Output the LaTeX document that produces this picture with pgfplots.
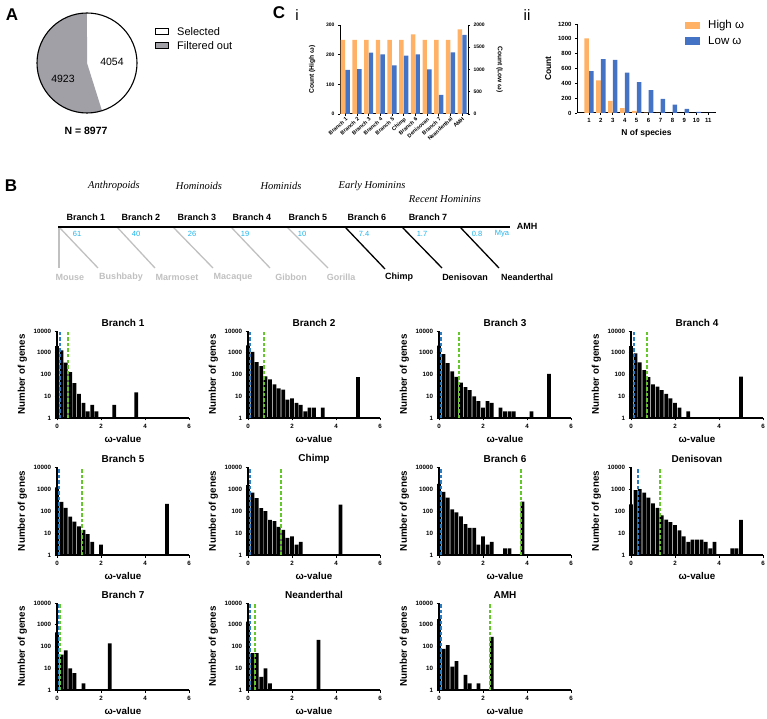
\documentclass[border=0pt]{standalone}
\usepackage{pgfplots}
\pgfplotsset{compat=1.18}
\usepackage{fontspec}
\setmainfont{Liberation Sans}
\newfontfamily\seriffont{Liberation Serif}
\definecolor{hiorange}{RGB}{255,178,102}
\definecolor{loblue}{RGB}{68,114,196}
\definecolor{piegray}{RGB}{160,160,166}
\definecolor{treegray}{RGB}{192,192,192}
\definecolor{myacyan}{RGB}{30,180,235}
\definecolor{dashblue}{RGB}{40,125,195}
\definecolor{dashgreen}{RGB}{100,200,40}
\newcommand{\fs}[1]{\fontsize{#1}{#1}\selectfont}
\newcommand{\omegahist}[7]{%
\begin{axis}[ymode=log, scale only axis, width=132pt, height=#3pt, at={(#1pt,#2pt)},
    ymin=1, ymax=10000, xmin=0, xmax=6,
    axis x line*=bottom, axis y line*=left,
    axis line style={line width=1.1pt,-},
    xtick={0,2,4,6}, ytick={1,10,100,1000,10000},
    yticklabels={1,10,100,1000,10000}, yminorticks=false,
    tick align=outside, major tick length=2.5pt,
    tick style={line width=0.9pt,black},
    ticklabel style={font=\bfseries\fs{6.2}},
    xlabel={ω-value}, ylabel={Number of genes},
    label style={font=\bfseries\fs{9.8}},
    title={#4},
    title style={font=\bfseries\fs{10}, at={(0.5,1)}, anchor=center, yshift=2pt},
    bar width=0.17, clip=false,
    /pgf/number format/assume math mode=true]
\addplot[ybar, fill=black, draw=none] coordinates {#5};
\addplot[color=dashblue, line width=2pt, dash pattern=on 3.5pt off 2pt] coordinates {(#6,1) (#6,10000)};
\addplot[color=dashgreen, line width=2pt, dash pattern=on 3.5pt off 2pt] coordinates {(#7,1) (#7,10000)};
\end{axis}}
\begin{document}
\begin{tikzpicture}
\useasboundingbox (0pt,0pt) rectangle (767pt,718pt);

% ---------- Panel A: pie ----------
\begin{axis}[hide axis, scale only axis, width=100pt, height=100pt,
  xmin=-1, xmax=1, ymin=-1, ymax=1, at={(87pt,655pt)}, anchor=center, clip=false]
\fill[white] (axis cs:0,0) -- (axis cs:0,1) arc[start angle=90, delta angle={-4054/8977*360}, radius=50pt] -- cycle;
\fill[piegray] (axis cs:0,0) -- ++({90-4054/8977*360}:50pt) arc[start angle={90-4054/8977*360}, delta angle={-4923/8977*360}, radius=50pt] -- cycle;
\draw[line width=1.1pt] (axis cs:0,0) circle[radius=50pt];
\end{axis}

% ---------- Panel C i ----------
\begin{axis}[scale only axis, width=128pt, height=89pt, at={(340pt,604pt)},
  xmin=0.55, xmax=11.5, ymin=0, ymax=300,
  axis x line*=bottom, axis y line*=left,
  axis line style={line width=1pt,-},
  xtick={1,...,11},
  xticklabels={Branch 1,Branch 2,Branch 3,Branch 4,Branch 5,Chimp,Branch 6,Denisovan,Branch 7,Neanderthal,AMH},
  x tick label style={rotate=42, anchor=north east, font=\bfseries\fs{5.4}, inner sep=0.5pt},
  ytick={0,100,200,300}, y tick label style={font=\bfseries\fs{5}},
  /pgf/number format/assume math mode=true,
  tick align=outside, major tick length=2pt, tick style={line width=0.8pt,black},
  ylabel={Count (High ω)}, ylabel style={font=\bfseries\fs{6.7}}, ylabel shift=4pt,
  bar width=0.38]
\addplot[ybar, bar shift=-0.2, fill=hiorange, draw=none] coordinates {(1,250) (2,250) (3,250) (4,250) (5,250) (6,250) (7,268) (8,250) (9,250) (10,250) (11,285)};
\end{axis}
\begin{axis}[scale only axis, width=128pt, height=89pt, at={(340pt,604pt)},
  xmin=0.55, xmax=11.5, ymin=0, ymax=2000,
  axis x line=none, axis y line*=right,
  axis line style={line width=1pt,-},
  ytick={0,500,1000,1500,2000}, y tick label style={font=\bfseries\fs{5}},
  /pgf/number format/assume math mode=true, /pgf/number format/1000 sep={},
  tick align=outside, major tick length=2pt, tick style={line width=0.8pt,black},
  ylabel={Count (Low ω)}, ylabel style={font=\bfseries\fs{6.7}, rotate=180}, ylabel shift=5pt,
  bar width=0.38]
\addplot[ybar, bar shift=0.2, fill=loblue, draw=none] coordinates {(1,990) (2,1010) (3,1380) (4,1340) (5,1095) (6,1310) (7,1340) (8,1005) (9,430) (10,1385) (11,1780)};
\end{axis}

% ---------- Panel C ii ----------
\begin{axis}[scale only axis, width=139pt, height=89pt, at={(577pt,605pt)},
  xmin=0, xmax=11.65, ymin=0, ymax=1200,
  axis x line*=bottom, axis y line*=left,
  axis line style={line width=1pt,-},
  xtick={1,...,11}, ytick={0,200,400,600,800,1000,1200},
  ticklabel style={font=\bfseries\fs{6}},
  /pgf/number format/assume math mode=true, /pgf/number format/1000 sep={},
  tick align=outside, major tick length=2pt, tick style={line width=0.8pt,black},
  xlabel={N of species}, ylabel={Count}, label style={font=\bfseries\fs{8.5}},
  bar width=0.38]
\addplot[ybar, bar shift=-0.2, fill=hiorange, draw=none] coordinates {(1,1005) (2,440) (3,165) (4,65) (5,27) (6,4) (7,2)};
\addplot[ybar, bar shift=0.2, fill=loblue, draw=none] coordinates {(1,565) (2,725) (3,715) (4,545) (5,415) (6,310) (7,190) (8,112) (9,55) (10,15) (11,3)};
\end{axis}

% ---------- Histograms ----------
\omegahist{57}{300}{87}{Branch 1}{(0,2000) (0.2,1300) (0.4,350) (0.6,130) (0.8,40) (1.0,13) (1.2,5) (1.4,2) (1.6,4) (1.8,2) (2.6,4) (3.6,15)}{0.12}{0.5}
\omegahist{248}{300}{87}{Branch 2}{(0,2200) (0.2,1100) (0.4,370) (0.6,240) (0.8,83) (1.0,59) (1.2,35) (1.4,23) (1.6,20) (1.8,7) (2.0,8) (2.2,5) (2.4,4) (2.6,2) (2.8,3) (3.0,3) (3.4,3) (5.0,75)}{0.1}{0.72}
\omegahist{439}{300}{87}{Branch 3}{(0,2100) (0.2,870) (0.4,330) (0.6,140) (0.8,78) (1.0,42) (1.2,26) (1.4,19) (1.6,10) (1.8,6) (2.0,3) (2.2,6) (2.4,5) (2.8,3) (3.0,2) (3.2,2) (3.4,2) (4.2,2) (5.0,107)}{0.1}{0.9}
\omegahist{631}{300}{87}{Branch 4}{(0,2000) (0.2,930) (0.4,360) (0.6,160) (0.8,76) (1.0,35) (1.2,28) (1.4,19) (1.6,13) (1.8,8) (2.0,5) (2.2,3) (2.6,2) (5.0,80)}{0.12}{0.73}
\omegahist{57}{163}{88}{Branch 5}{(0,1200) (0.2,260) (0.4,140) (0.6,55) (0.8,33) (1.0,20) (1.2,14) (1.4,9) (1.6,4) (2.0,3) (5.0,210)}{0.1}{1.12}
\omegahist{248}{163}{88}{Chimp}{(0,1500) (0.2,680) (0.4,390) (0.6,134) (0.8,98) (1.0,40) (1.2,35) (1.4,19) (1.6,14) (1.8,6) (2.0,7) (2.2,3) (2.4,4) (4.2,195)}{0.1}{1.52}
\omegahist{439}{163}{88}{Branch 6}{(0,1700) (0.2,740) (0.4,410) (0.6,120) (0.8,87) (1.0,57) (1.2,25) (1.4,17) (1.6,17) (1.8,3) (2.0,7) (2.2,3) (2.4,4) (3.0,2) (3.2,2) (3.8,270)}{0.1}{3.72}
\omegahist{631}{163}{88}{Denisovan}{(0,200) (0.2,880) (0.4,980) (0.6,690) (0.8,410) (1.0,220) (1.2,140) (1.4,63) (1.6,41) (1.8,31) (2.0,23) (2.2,13) (2.4,7) (2.6,4) (2.8,5) (3.0,5) (3.2,5) (3.4,4) (3.6,2) (3.8,4) (4.6,2) (4.8,2) (5.0,40)}{0.32}{1.3}
\omegahist{57}{28}{87}{Branch 7}{(0,450) (0.2,42) (0.4,66) (0.6,10) (0.8,6) (1.2,2) (2.4,140)}{0.1}{0.15}
\omegahist{248}{28}{87}{Neanderthal}{(0,1400) (0.2,50) (0.4,50) (0.6,4) (0.8,10) (1.0,2) (3.2,200)}{0.1}{0.3}
\omegahist{439}{28}{87}{AMH}{(0,1800) (0.2,78) (0.4,115) (0.6,12) (0.8,21) (1.2,5) (1.4,2) (1.8,2) (2.4,280)}{0.1}{2.3}

% ---------- Text, legend, tree ----------
\begin{scope}[x=1pt, y=-1pt, shift={(0pt,718pt)}]
\node[font=\bfseries\fs{17}] at (12,15) {A};
\node[font=\bfseries\fs{17}] at (11,186) {B};
\node[font=\bfseries\fs{17}] at (279,13) {C};
\node[font=\fs{15}] at (297,15) {i};
\node[font=\fs{15}] at (527,15) {ii};
% pie texts
\node[font=\fs{10.5}] at (112,62) {4054};
\node[font=\fs{10.5}] at (63,79) {4923};
\node[font=\bfseries\fs{10.5}] at (86,131) {N = 8977};
\draw[line width=1pt, fill=white] (155,29) rectangle (168,35);
\draw[line width=1pt, fill=piegray] (155,43) rectangle (168,49);
\node[font=\fs{11}, anchor=west, inner sep=0pt] at (177,32) {Selected};
\node[font=\fs{11}, anchor=west, inner sep=0pt] at (177,46) {Filtered out};
% Cii legend
\fill[hiorange] (685,22) rectangle (700,29);
\fill[loblue] (685,37) rectangle (700,45);
\node[font=\fs{11.5}, anchor=west, inner sep=0pt] at (708,26) {High ω};
\node[font=\fs{11.5}, anchor=west, inner sep=0pt] at (708,41) {Low ω};
% tree
\node[font=\seriffont\itshape\fs{10.5}] at (114,186) {Anthropoids};
\node[font=\seriffont\itshape\fs{10.5}] at (199,186) {Hominoids};
\node[font=\seriffont\itshape\fs{10.5}] at (281,186) {Hominids};
\node[font=\seriffont\itshape\fs{10.5}] at (372,186) {Early Hominins};
\node[font=\seriffont\itshape\fs{10.5}] at (445,199) {Recent Hominins};
\foreach \x/\t in {86/Branch 1,141/Branch 2,197/Branch 3,252/Branch 4,308/Branch 5,367/Branch 6,428/Branch 7}
  \node[font=\bfseries\fs{9}] at (\x,217) {\t};
\draw[treegray, line width=1.3pt] (59,227) -- (59,268);
\draw[treegray, line width=1.3pt] (59,227) -- (98,268);
\draw[treegray, line width=1.3pt] (117,227) -- (155,268);
\draw[treegray, line width=1.3pt] (173,227) -- (213,268);
\draw[treegray, line width=1.3pt] (231,227) -- (270,268);
\draw[treegray, line width=1.3pt] (287,227) -- (328,268);
\draw[black, line width=1.3pt] (345,227) -- (385,269);
\draw[black, line width=1.3pt] (402,227) -- (442,268);
\draw[black, line width=1.3pt] (460,227) -- (499,268);
\draw[black, line width=1.4pt] (58,227) -- (510,227);
\node[font=\bfseries\fs{9}] at (527,226) {AMH};
\foreach \x/\t in {77/61,136/40,192/26,245/19,302/10,364/7.4,422/1.7,477/0.8,502/Mya}
  \node[font=\fs{7.5}, text=myacyan] at (\x,234) {\t};
\foreach \x/\t in {70/Mouse,121/Bushbaby,177/Marmoset,233/Macaque,291/Gibbon,341/Gorilla}
  \node[font=\bfseries\fs{9}, text=treegray] at (\x,277) {\t};
\foreach \x/\t in {399/Chimp,465/Denisovan,527/Neanderthal}
  \node[font=\bfseries\fs{9}] at (\x,277) {\t};
\end{scope}
\end{tikzpicture}
\end{document}
